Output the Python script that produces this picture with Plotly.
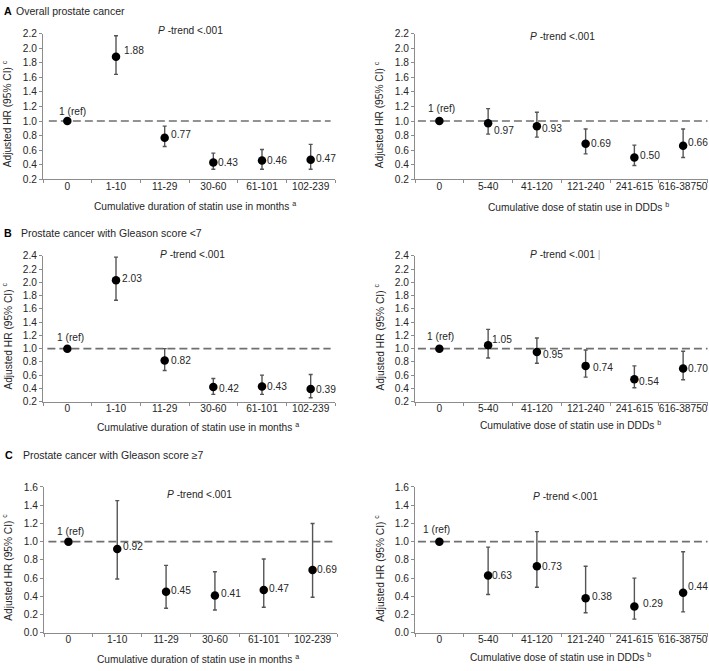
import plotly.graph_objects as go

W, H = 709, 671

# ---------------- data ----------------
months_cats = ["0", "1-10", "11-29", "30-60", "61-101", "102-239"]
ddd_cats = ["0", "5-40", "41-120", "121-240", "241-615", "616-38750"]

A_months_hr = [1, 1.88, 0.77, 0.43, 0.46, 0.47]
A_months_lo = [None, 1.64, 0.65, 0.34, 0.34, 0.34]
A_months_hi = [None, 2.17, 0.93, 0.56, 0.61, 0.68]

A_ddd_hr = [1, 0.97, 0.93, 0.69, 0.50, 0.66]
A_ddd_lo = [None, 0.82, 0.78, 0.55, 0.39, 0.50]
A_ddd_hi = [None, 1.17, 1.12, 0.89, 0.67, 0.89]

B_months_hr = [1, 2.03, 0.82, 0.42, 0.43, 0.39]
B_months_lo = [None, 1.73, 0.67, 0.31, 0.31, 0.26]
B_months_hi = [None, 2.38, 1.00, 0.55, 0.60, 0.61]

B_ddd_hr = [1, 1.05, 0.95, 0.74, 0.54, 0.70]
B_ddd_lo = [None, 0.86, 0.78, 0.57, 0.41, 0.53]
B_ddd_hi = [None, 1.29, 1.16, 0.98, 0.74, 0.96]

C_months_hr = [1, 0.92, 0.45, 0.41, 0.47, 0.69]
C_months_lo = [None, 0.59, 0.27, 0.25, 0.28, 0.39]
C_months_hi = [None, 1.45, 0.74, 0.67, 0.81, 1.20]

C_ddd_hr = [1, 0.63, 0.73, 0.38, 0.29, 0.44]
C_ddd_lo = [None, 0.42, 0.50, 0.22, 0.15, 0.23]
C_ddd_hi = [None, 0.94, 1.11, 0.73, 0.60, 0.89]

yticks_A = [0.2, 0.4, 0.6, 0.8, 1.0, 1.2, 1.4, 1.6, 1.8, 2.0, 2.2]
yticks_B = [0.2, 0.4, 0.6, 0.8, 1.0, 1.2, 1.4, 1.6, 1.8, 2.0, 2.2, 2.4]
yticks_C = [0.0, 0.2, 0.4, 0.6, 0.8, 1.0, 1.2, 1.4, 1.6]

panel_titles = [("A", "Overall prostate cancer"),
                ("B", "Prostate cancer with Gleason score &lt;7"),
                ("C", "Prostate cancer with Gleason score ≥7")]
xtitle_months = "Cumulative duration of statin use in months <sup>a</sup>"
xtitle_ddd = "Cumulative dose of statin use in DDDs <sup>b</sup>"
ytitle = "Adjusted HR (95% CI) <sup>c</sup>"
ptrend = "<i>P</i> -trend &lt;.001"

# ---------------- styling / layout (pixels) ----------------
FONT = "Liberation Sans, Arial, sans-serif"
TXT = "#262626"
AXC = "#8c8c8c"
FS = 10.2

# label offsets (dx, dy) in px, dy positive = up
off_A_m = [(5, 10), (7, 6), (5, 3), (4, 0), (4, 0), (4, 1)]
off_A_d = [(2, 13), (5, -7), (4, -2), (4, 0), (5, 2), (4, 3)]
off_B_m = [(3, 11), (5, 2), (5, 0), (5, -1), (4, 0), (4, 0)]
off_B_d = [(1, 12), (3, 6), (5, -3), (6, -2), (4, -2), (4, 0)]
off_C_m = [(2, 10), (5, 2), (4, 1), (5, 2), (4, 1), (3, 0)]
off_C_d = [(-3, 12), (3, 0), (4, 0), (5, 2), (8, 3), (4, 6)]

panels = [
    dict(cats=months_cats, hr=A_months_hr, lo=A_months_lo, hi=A_months_hi,
         yr=[0.2, 2.2], yt=yticks_A, xd=(43, 335), yd=(29, 177.3), off=off_A_m,
         dash=(0.02, 0.985), pt=(190, 26), xt=(xtitle_months, 195, 204), yx=7),
    dict(cats=ddd_cats, hr=A_ddd_hr, lo=A_ddd_lo, hi=A_ddd_hi,
         yr=[0.2, 2.2], yt=yticks_A, xd=(415, 707.5), yd=(29, 177.3), off=off_A_d,
         dash=(0.01, 1.0), pt=(562, 32.5), xt=(xtitle_ddd, 578, 205), yx=379),
    dict(cats=months_cats, hr=B_months_hr, lo=B_months_lo, hi=B_months_hi,
         yr=[0.2, 2.4], yt=yticks_B, xd=(43, 335), yd=(255, 403.3), off=off_B_m,
         dash=(0.015, 0.985), pt=(192, 254), xt=(xtitle_months, 198, 429), yx=7),
    dict(cats=ddd_cats, hr=B_ddd_hr, lo=B_ddd_lo, hi=B_ddd_hi,
         yr=[0.2, 2.4], yt=yticks_B, xd=(415, 707.5), yd=(255, 403.3), off=off_B_d,
         dash=(0.01, 1.0), pt=(562, 254), xt=(xtitle_ddd, 570, 427), yx=379),
    dict(cats=months_cats, hr=C_months_hr, lo=C_months_lo, hi=C_months_hi,
         yr=[0.0, 1.6], yt=yticks_C, xd=(44, 337), yd=(490, 638.3), off=off_C_m,
         dash=(0.015, 0.985), pt=(199, 498), xt=(xtitle_months, 198, 665), yx=7),
    dict(cats=ddd_cats, hr=C_ddd_hr, lo=C_ddd_lo, hi=C_ddd_hi,
         yr=[0.0, 1.6], yt=yticks_C, xd=(415, 707.5), yd=(490, 638.3), off=off_C_d,
         dash=(0.01, 1.0), pt=(565, 500), xt=(xtitle_ddd, 560, 663), yx=379),
]


def px(x):
    return x / W


def py(y):
    return 1 - y / H


fig = go.Figure()
annotations = []
shapes = []

for i, p in enumerate(panels, start=1):
    xa = "x" if i == 1 else f"x{i}"
    ya = "y" if i == 1 else f"y{i}"
    plus = [None if h is None else h - v for h, v in zip(p["hi"], p["hr"])]
    minus = [None if l is None else v - l for l, v in zip(p["lo"], p["hr"])]
    fig.add_trace(go.Scatter(
        x=p["cats"], y=p["hr"], mode="markers", xaxis=xa, yaxis=ya,
        marker=dict(size=8.5, color="black"),
        error_y=dict(type="data", array=plus, arrayminus=minus, symmetric=False,
                     color="#555555", thickness=1.4, width=2),
        showlegend=False, hoverinfo="skip", cliponaxis=False,
    ))
    # value labels
    for j, (c, v) in enumerate(zip(p["cats"], p["hr"])):
        dx, dy = p["off"][j]
        ref = j == 0
        annotations.append(dict(
            x=c, y=v, xref=xa, yref=ya, showarrow=False,
            text="1 (ref)" if ref else f"{v:.2f}",
            xanchor="center" if ref else "left", yanchor="middle",
            xshift=dx, yshift=dy, borderpad=0,
            font=dict(family=FONT, size=FS, color=TXT)))
    # dashed reference line
    shapes.append(dict(type="line", xref=f"{xa} domain", yref=ya,
                       x0=p["dash"][0], x1=p["dash"][1], y0=1, y1=1,
                       line=dict(color="#707070", width=1.6, dash="8px,4px"),
                       layer="below"))
    axis_common = dict(showline=True, linecolor=AXC, linewidth=1, ticks="outside",
                       ticklen=3, tickcolor=AXC, showgrid=False, zeroline=False,
                       tickfont=dict(family=FONT, size=FS, color=TXT))
    fig.update_layout(**{
        ("xaxis" if i == 1 else f"xaxis{i}"): dict(
            axis_common, type="category", categoryorder="array", categoryarray=p["cats"],
            range=[-0.5, 5.5], tickson="boundaries", tickangle=0, ticklabelstandoff=-3,
            domain=[px(p["xd"][0]), px(p["xd"][1])], anchor=ya, fixedrange=True),
        ("yaxis" if i == 1 else f"yaxis{i}"): dict(
            axis_common, range=p["yr"], tickmode="array", tickvals=p["yt"],
            ticktext=[f"{t:.1f}" for t in p["yt"]],
            domain=[py(p["yd"][1]), py(p["yd"][0])], anchor=xa, fixedrange=True),
    })
    # P-trend
    pt_text = ptrend + (' <span style="color:#aaaaaa">|</span>' if i == 4 else "")
    annotations.append(dict(x=px(p["pt"][0] + (3 if i == 4 else 0)), y=py(p["pt"][1]),
                            xref="paper", yref="paper",
                            showarrow=False, text=pt_text, xanchor="center", yanchor="middle",
                            font=dict(family=FONT, size=FS, color=TXT)))
    # x title
    t, tx, ty = p["xt"]
    annotations.append(dict(x=px(tx), y=py(ty), xref="paper", yref="paper", showarrow=False,
                            text=t, xanchor="center", yanchor="middle",
                            font=dict(family=FONT, size=FS, color=TXT)))
    # y title
    ymid = (p["yd"][0] + p["yd"][1]) / 2 + 8
    annotations.append(dict(x=px(p["yx"]), y=py(ymid), xref="paper", yref="paper",
                            showarrow=False, text=ytitle, textangle=-90,
                            xanchor="center", yanchor="middle",
                            font=dict(family=FONT, size=FS, color=TXT)))

# panel titles
title_pos = [(2, 14, 6), (2, 19, 232), (3, 20.5, 457)]
for (letter, txt), (lx, tx, ty) in zip(panel_titles, title_pos):
    annotations.append(dict(x=px(lx), y=py(ty), xref="paper", yref="paper", showarrow=False,
                            text=f"<b>{letter}</b>", xanchor="left", yanchor="middle",
                            font=dict(family=FONT, size=FS + 0.5, color="black")))
    annotations.append(dict(x=px(tx), y=py(ty), xref="paper", yref="paper", showarrow=False,
                            text=txt, xanchor="left", yanchor="middle",
                            font=dict(family=FONT, size=FS + 0.3, color=TXT)))

fig.update_layout(
    width=W, height=H, margin=dict(l=0, r=0, t=0, b=0),
    paper_bgcolor="white", plot_bgcolor="white",
    annotations=annotations, shapes=shapes,
    font=dict(family=FONT, size=FS, color=TXT),
)

fig.write_html("out.html", config={"displayModeBar": False},
               post_script="document.body.style.margin='0';document.body.style.overflow='hidden';")
